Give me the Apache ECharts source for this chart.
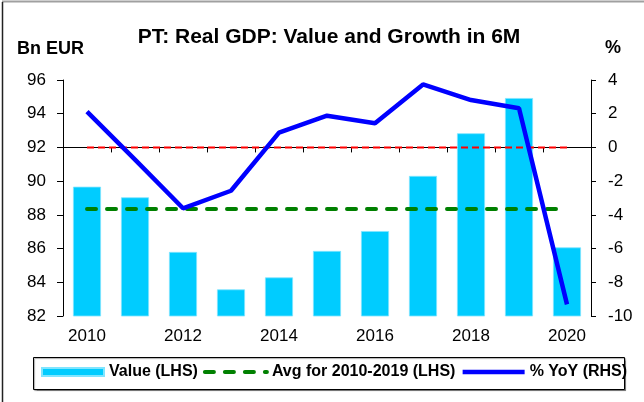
<!DOCTYPE html>
<html>
<head>
<meta charset="utf-8">
<script src="https://cdn.jsdelivr.net/npm/echarts@6/dist/echarts.min.js"></script>
<style>
  html, body { margin: 0; padding: 0; background: #fff; }
  #chart { width: 644px; height: 402px; }
</style>
</head>
<body>
<div id="chart"></div>
<script>
/************************    数据     ****************************/
var years = ['2010', '2011', '2012', '2013', '2014', '2015', '2016', '2017', '2018', '2019', '2020'];
// 实际GDP（十亿欧元，左轴）
var gdpValue = [89.67, 89.04, 85.80, 83.58, 84.29, 85.86, 87.04, 90.31, 92.84, 94.93, 86.07];
// 2010-2019 平均值（左轴）
var avgLine = [88.35, 88.35, 88.35, 88.35, 88.35, 88.35, 88.35, 88.35, 88.35, 88.35, 88.35];
// 同比增速 %（右轴）
var yoy = [2.12, -0.72, -3.61, -2.57, 0.88, 1.88, 1.43, 3.74, 2.81, 2.32, -9.31];
// 零线（右轴）
var zeroLine = [0, 0, 0, 0, 0, 0, 0, 0, 0, 0, 0];

var leftTicks = { min: 82, max: 96, interval: 2 };
var rightTicks = { min: -10, max: 4, interval: 2 };

var FONT = 'Liberation Sans, Arial, sans-serif';

/************************    渲染     ****************************/
var chart = echarts.init(document.getElementById('chart'));

// 图例里的线条不显示圆点
var noDot = { color: 'rgba(0,0,0,0)', borderWidth: 0 };

var option = {
    backgroundColor: '#fff',
    animation: false,
    textStyle: { fontFamily: FONT },
    title: {
        text: 'PT: Real GDP: Value and Growth in 6M',
        left: 324,
        top: 22,
        textAlign: 'center',
        textStyle: { fontSize: 21, fontWeight: 'bold', color: '#000', fontFamily: FONT }
    },
    grid: { left: 63, right: 53, top: 80, bottom: 86, containLabel: false },
    legend: {
        left: 41,
        top: 364,
        itemWidth: 62,
        itemHeight: 8,
        itemGap: 5,
        padding: 0,
        textStyle: { fontSize: 16, fontWeight: 'bold', color: '#000', fontFamily: FONT },
        data: [
            { name: 'Value (LHS)', icon: 'rect' },
            { name: 'Avg for 2010-2019 (LHS)', icon: 'inherit', itemStyle: noDot, lineStyle: { width: 4 } },
            { name: '% YoY (RHS)', icon: 'inherit', itemStyle: noDot, lineStyle: { width: 4.5 } }
        ]
    },
    graphic: [
        { type: 'line', shape: { x1: 2, y1: 1.5, x2: 644, y2: 1.5 }, style: { stroke: '#a0a0a0', lineWidth: 2 } },
        { type: 'line', shape: { x1: 2.5, y1: 2, x2: 2.5, y2: 402 }, style: { stroke: '#222', lineWidth: 1.5 } },
        { type: 'rect', z: -1, shape: { x: 33.5, y: 357.5, width: 591, height: 32 }, style: { fill: '#fff', stroke: '#000', lineWidth: 1, shadowColor: 'rgba(0,0,0,0.35)', shadowOffsetX: 1, shadowOffsetY: 1, shadowBlur: 1 } },
        { type: 'text', left: 17, top: 40, style: { text: 'Bn EUR', font: 'bold 18px ' + FONT, fill: '#000' } },
        { type: 'text', left: 605, top: 39, style: { text: '%', font: 'bold 18px ' + FONT, fill: '#000' } }
    ],
    xAxis: {
        type: 'category',
        data: years,
        boundaryGap: true,
        axisLine: { lineStyle: { color: '#000', width: 1 } },
        axisTick: { show: true, inside: false, length: 5, interval: 0, lineStyle: { color: '#000' } },
        axisLabel: { interval: 1, margin: 12, fontSize: 17, color: '#000', fontFamily: FONT },
        splitLine: { show: false }
    },
    yAxis: [
        {
            type: 'value',
            min: leftTicks.min, max: leftTicks.max, interval: leftTicks.interval,
            axisLine: { show: true, lineStyle: { color: '#000' } },
            axisTick: { show: true, inside: false, length: 6, lineStyle: { color: '#000' } },
            axisLabel: { margin: 17, fontSize: 17, color: '#000', fontFamily: FONT },
            splitLine: { show: false }
        },
        {
            type: 'value',
            position: 'right',
            min: rightTicks.min, max: rightTicks.max, interval: rightTicks.interval,
            axisLine: { show: true, lineStyle: { color: '#000' } },
            axisTick: { show: true, inside: false, length: 5, lineStyle: { color: '#000' } },
            axisLabel: { margin: 17, align: 'left', fontSize: 17, color: '#000', fontFamily: FONT },
            splitLine: { show: false }
        }
    ],
    series: [
        {
            name: 'Value (LHS)',
            type: 'bar',
            yAxisIndex: 0,
            data: gdpValue,
            barWidth: 28,
            itemStyle: { color: '#00ccff', borderColor: '#7fe5ff', borderWidth: 0.8 },
            z: 1
        },
        {
            name: 'zero',
            type: 'line',
            yAxisIndex: 1,
            data: zeroLine,
            symbol: 'none',
            lineStyle: { color: '#ff0000', width: 2, type: [7, 4] },
            z: 2
        },
        {
            name: 'Avg for 2010-2019 (LHS)',
            type: 'line',
            yAxisIndex: 0,
            data: avgLine,
            symbol: 'none',
            lineStyle: { color: '#008000', width: 4, type: [9, 11], cap: 'round' },
            itemStyle: { color: '#008000' },
            z: 3
        },
        {
            name: '% YoY (RHS)',
            type: 'line',
            yAxisIndex: 1,
            data: yoy,
            symbol: 'none',
            lineStyle: { color: '#0000ff', width: 4.5 },
            itemStyle: { color: '#0000ff' },
            z: 4
        }
    ]
};

chart.setOption(option);
</script>
</body>
</html>
